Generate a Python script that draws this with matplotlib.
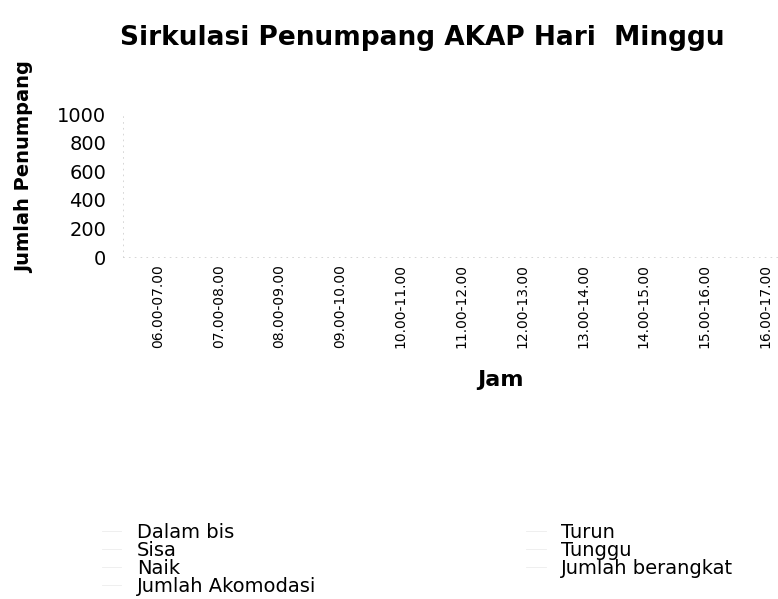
import matplotlib
matplotlib.use("Agg")
import matplotlib.pyplot as plt

title = "Sirkulasi Penumpang AKAP Hari  Minggu"
categories = ["06.00-07.00", "07.00-08.00", "08.00-09.00", "09.00-10.00",
              "10.00-11.00", "11.00-12.00", "12.00-13.00", "13.00-14.00",
              "14.00-15.00", "15.00-16.00", "16.00-17.00"]
y_ticks = [0, 200, 400, 600, 800, 1000]

# Series are not visible in the scan above the baseline; read as ~0
dalam_bis = [0, 0, 0, 0, 0, 0, 0, 0, 0, 0, 0]
sisa = [0, 0, 0, 0, 0, 0, 0, 0, 0, 0, 0]
naik = [0, 0, 0, 0, 0, 0, 0, 0, 0, 0, 0]
jumlah_akomodasi = [0, 0, 0, 0, 0, 0, 0, 0, 0, 0, 0]
turun = [0, 0, 0, 0, 0, 0, 0, 0, 0, 0, 0]
tunggu = [0, 0, 0, 0, 0, 0, 0, 0, 0, 0, 0]
jumlah_berangkat = [0, 0, 0, 0, 0, 0, 0, 0, 0, 0, 0]

series_names = ["Dalam bis", "Sisa", "Naik", "Jumlah Akomodasi",
                "Turun", "Tunggu", "Jumlah berangkat"]
series_values = [dalam_bis, sisa, naik, jumlah_akomodasi,
                 turun, tunggu, jumlah_berangkat]

W, H = 778, 599
fig = plt.figure(figsize=(W / 100, H / 100), dpi=100)
fig.patch.set_facecolor("white")

ax_left, ax_right = 123, 778
ax_top, ax_bottom = 114, 257
ax = fig.add_axes([ax_left / W, 1 - ax_bottom / H,
                   (ax_right - ax_left) / W, (ax_bottom - ax_top) / H])

x = list(range(len(categories)))
faint = "#ececec"
for name, vals in zip(series_names, series_values):
    ax.plot(x, vals, color=faint, lw=0.6, label=name)

ax.set_ylim(0, 1000)
ax.set_xlim(-0.577, 10.21)
ax.set_yticks(y_ticks)
ax.set_yticklabels([str(v) for v in y_ticks], fontsize=14)
ax.set_xticks(x)
ax.set_xticklabels(categories, rotation=90, fontsize=10)
ax.tick_params(axis="y", length=0, pad=12)
ax.tick_params(axis="x", length=0, pad=5)

for s in ["top", "right"]:
    ax.spines[s].set_visible(False)
for s in ["left", "bottom"]:
    ax.spines[s].set_color("#d0d0d0")
    ax.spines[s].set_linestyle((0, (1, 6)))
    ax.spines[s].set_linewidth(0.6)

fig.text(422 / W, 1 - 38 / H, title, fontsize=19, fontweight="bold",
         ha="center", va="center")
fig.text(25 / W, 1 - 167 / H, "Jumlah Penumpang", fontsize=14,
         fontweight="bold", rotation=90, ha="center", va="center")
fig.text(500 / W, 1 - 380 / H, "Jam", fontsize=16, fontweight="bold",
         ha="center", va="center")

leg = fig.legend(loc="upper left", bbox_to_anchor=(102 / W, 1 - 523 / H),
                 ncol=2, frameon=False, fontsize=14, handlelength=1.0,
                 handletextpad=0.8, columnspacing=10.8, labelspacing=-0.06,
                 borderpad=0, borderaxespad=0)

fig.savefig("out.png", dpi=100)
